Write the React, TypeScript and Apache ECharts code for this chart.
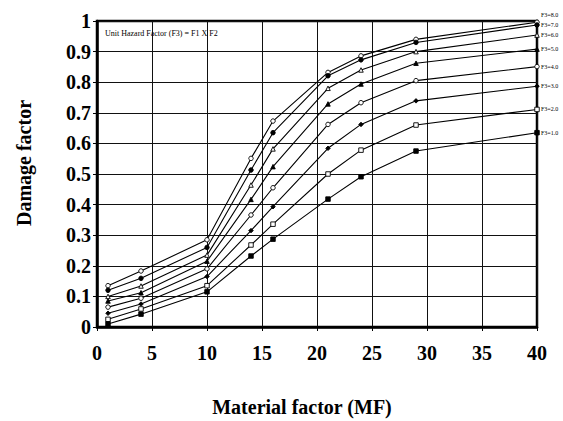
import React, { useEffect, useRef } from "react";
import * as echarts from "echarts";

const mfValues = [1, 4, 10, 14, 16, 21, 24, 29, 40];
const f8 = [0.135, 0.183, 0.285, 0.551, 0.673, 0.832, 0.886, 0.94, 0.996];
const f7 = [0.12, 0.159, 0.26, 0.513, 0.635, 0.821, 0.873, 0.93, 0.987];
const f6 = [0.1, 0.134, 0.235, 0.464, 0.582, 0.78, 0.84, 0.9, 0.954];
const f5 = [0.085, 0.112, 0.215, 0.417, 0.524, 0.729, 0.794, 0.862, 0.908];
const f4 = [0.065, 0.094, 0.19, 0.366, 0.455, 0.662, 0.733, 0.805, 0.851];
const f3 = [0.045, 0.075, 0.165, 0.315, 0.393, 0.584, 0.662, 0.739, 0.787];
const f2 = [0.025, 0.059, 0.135, 0.268, 0.336, 0.5, 0.578, 0.66, 0.711];
const f1 = [0.01, 0.042, 0.115, 0.232, 0.287, 0.418, 0.491, 0.575, 0.635];
const seriesNames = ["F3=8.0", "F3=7.0", "F3=6.0", "F3=5.0", "F3=4.0", "F3=3.0", "F3=2.0", "F3=1.0"];

const SERIF = "'Liberation Serif', 'Times New Roman', serif";

export default function App() {
  const ref = useRef<HTMLDivElement>(null);
  useEffect(() => {
    if (!ref.current) return;
    const chart = echarts.init(ref.current, null, { renderer: "svg" });
    const all = [f8, f7, f6, f5, f4, f3, f2, f1];
    const styles = [
      { symbol: "circle", open: true, dy: -7 },
      { symbol: "circle", open: false, dy: 0 },
      { symbol: "triangle", open: true, dy: 0 },
      { symbol: "triangle", open: false, dy: 0 },
      { symbol: "circle", open: true, dy: 0 },
      { symbol: "diamond", open: false, dy: 0 },
      { symbol: "rect", open: true, dy: 0 },
      { symbol: "rect", open: false, dy: 0 },
    ];
    const series = all.map((vals, i) => ({
      type: "line",
      name: seriesNames[i],
      data: vals.map((v, j) => [mfValues[j], v]),
      symbol: styles[i].symbol,
      symbolSize: 4.5,
      lineStyle: { color: "#000", width: 1.1 },
      itemStyle: styles[i].open
        ? { color: "#fff", borderColor: "#000", borderWidth: 0.9 }
        : { color: "#000", borderColor: "#000", borderWidth: 0.9 },
      endLabel: {
        show: true,
        formatter: seriesNames[i],
        color: "#000",
        fontFamily: SERIF,
        fontSize: 6,
        distance: 4,
        offset: [0, styles[i].dy],
      },
      z: 3,
    }));
    chart.setOption({
      animation: false,
      grid: {
        left: 97,
        right: 26,
        top: 21,
        bottom: 94,
        show: true,
        borderColor: "#000",
        borderWidth: 2.5,
        containLabel: false,
      },
      xAxis: {
        type: "value",
        min: 0,
        max: 40,
        interval: 5,
        axisLine: { show: true, lineStyle: { color: "#000", width: 2.5 } },
        axisTick: { show: true, length: 4, lineStyle: { color: "#000" } },
        axisLabel: {
          color: "#000",
          fontFamily: SERIF,
          fontWeight: "bold",
          fontSize: 20,
          margin: 16,
        },
        splitLine: { show: true, lineStyle: { color: "#111", width: 1 } },
      },
      yAxis: {
        type: "value",
        min: 0,
        max: 1,
        interval: 0.1,
        axisLine: { show: true, lineStyle: { color: "#000", width: 2.5 } },
        axisTick: { show: true, length: 4, lineStyle: { color: "#000" } },
        axisLabel: {
          color: "#000",
          fontFamily: SERIF,
          fontWeight: "bold",
          fontSize: 20,
          margin: 6,
          formatter: (v: number) => String(Math.round(v * 10) / 10),
        },
        splitLine: { show: true, lineStyle: { color: "#111", width: 1 } },
      },
      graphic: [
        {
          type: "text",
          left: 105,
          top: 29,
          style: {
            text: "Unit Hazard Factor (F3) = F1 X F2",
            fontFamily: SERIF,
            fontSize: 8,
            fill: "#000",
          },
        },
        {
          type: "text",
          x: 24,
          y: 163,
          rotation: Math.PI / 2,
          style: {
            text: "Damage factor",
            fontFamily: SERIF,
            fontWeight: "bold",
            fontSize: 20,
            fill: "#000",
            align: "center",
            verticalAlign: "middle",
          },
        },
        {
          type: "text",
          x: 302,
          y: 407,
          style: {
            text: "Material factor (MF)",
            fontFamily: SERIF,
            fontWeight: "bold",
            fontSize: 20,
            fill: "#000",
            align: "center",
            verticalAlign: "middle",
          },
        },
      ],
      series,
    });
    return () => chart.dispose();
  }, []);
  return (
    <div
      ref={ref}
      style={{ position: "absolute", left: 0, top: 0, width: 563, height: 421 }}
    />
  );
}
